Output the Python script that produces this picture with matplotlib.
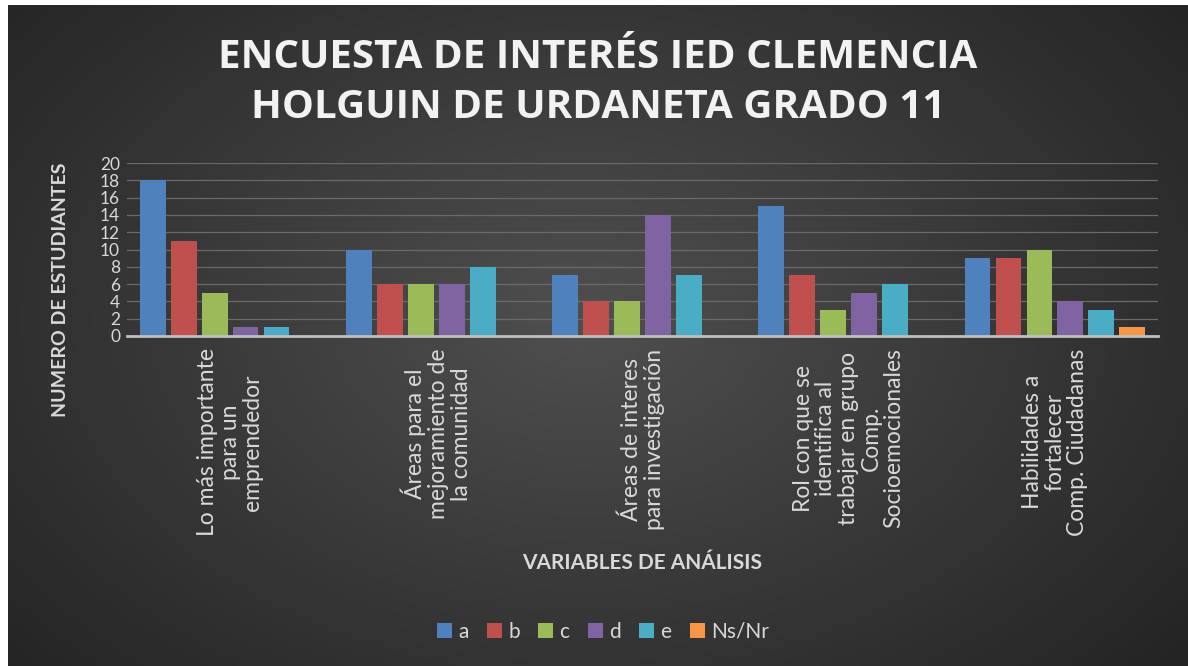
import matplotlib.pyplot as plt
import numpy as np

# datos de la encuesta
categorias = ["Lo más importante\npara un\nemprendedor",
              "Áreas para el\nmejoramiento de\nla comunidad",
              "Áreas de interes\npara investigación",
              "Rol con que se\nidentifica al\ntrabajar en grupo\nComp.\nSocioemocionales",
              "Habilidades a\nfortalecer\nComp. Ciudadanas"]
series = ["a", "b", "c", "d", "e", "Ns/Nr"]
a = [18, 10, 7, 15, 9]
b = [11, 6, 4, 7, 9]
c = [5, 6, 4, 3, 10]
d = [1, 6, 14, 5, 4]
e = [1, 8, 7, 6, 3]
ns_nr = [0, 0, 0, 0, 1]
valores = [a, b, c, d, e, ns_nr]
colores = ["#4f81bd", "#c0504d", "#9bbb59", "#8064a2", "#4bacc6", "#f79646"]

W, H = 1188, 666
fig = plt.figure(figsize=(W / 100, H / 100), dpi=100)
fig.patch.set_facecolor("white")

# fondo oscuro con degradado radial
bg = fig.add_axes([8 / W, 0, 1 - 8 / W, 1 - 5 / H])
bg.set_axis_off()
yy, xx = np.mgrid[0:200, 0:360]
r = np.sqrt(((xx - 175) / 240.0) ** 2 + ((yy - 95) / 160.0) ** 2)
grad = np.clip(1 - r, 0, 1)
gris = 0.14 + 0.17 * grad
img = np.dstack([gris, gris, gris])
bg.imshow(img, aspect="auto", extent=[0, 1, 0, 1], interpolation="bilinear")
bg.set_xlim(0, 1)
bg.set_ylim(0, 1)

txt = "#d9d9d9"
plt.rcParams["font.family"] = ["Lato", "DejaVu Sans"]

ax = fig.add_axes([127 / W, (H - 336) / H, (1158 - 127) / W, (336 - 163) / H])
ax.set_facecolor("none")
x = np.arange(len(categorias))
paso = 0.15
for i, (nombre, vals) in enumerate(zip(series, valores)):
    ax.bar(x + (i - 2.5) * paso, vals, width=0.125, color=colores[i],
           label=nombre, zorder=3)

ax.set_xlim(-0.5, 4.5)
ax.set_ylim(0, 20)
ax.set_yticks(range(0, 21, 2))
ax.yaxis.grid(True, color="#6a6a6a", linewidth=0.9, zorder=0)
ax.tick_params(axis="y", length=0, pad=5, labelsize=12.5, labelcolor=txt)
ax.set_xticks(x)
ax.set_xticklabels(categorias, rotation=90, va="top", ha="center",
                   multialignment="center", fontsize=16.5, color=txt,
                   linespacing=1.1)
ax.tick_params(axis="x", length=0, pad=9)
for s in ["top", "right", "left"]:
    ax.spines[s].set_visible(False)
ax.spines["bottom"].set_color("#bfbfbf")
ax.spines["bottom"].set_linewidth(2)
ax.spines["bottom"].set_zorder(4)

fig.text(598 / W, 1 - 57 / H, "ENCUESTA DE INTERÉS IED CLEMENCIA",
         ha="center", va="center", fontsize=29, fontweight="bold",
         color="#f2f2f2", family="Open Sans")
fig.text(598 / W, 1 - 107 / H, "HOLGUIN DE URDANETA GRADO 11",
         ha="center", va="center", fontsize=29, fontweight="bold",
         color="#f2f2f2", family="Open Sans")
fig.text(60 / W, 1 - 290 / H, "NUMERO DE ESTUDIANTES", rotation=90,
         ha="center", va="center", fontsize=14, fontweight="bold", color=txt)
fig.text(642 / W, 1 - 563 / H, "VARIABLES DE ANÁLISIS", ha="center",
         va="center", fontsize=15, fontweight="bold", color=txt)

fig.legend(loc="center", bbox_to_anchor=(603 / W, 1 - 632 / H), ncol=6,
           frameon=False, fontsize=15, labelcolor=txt, handlelength=0.7,
           handleheight=0.7, handletextpad=0.3, columnspacing=0.9)

fig.savefig("out.png", dpi=100, facecolor=fig.get_facecolor())
